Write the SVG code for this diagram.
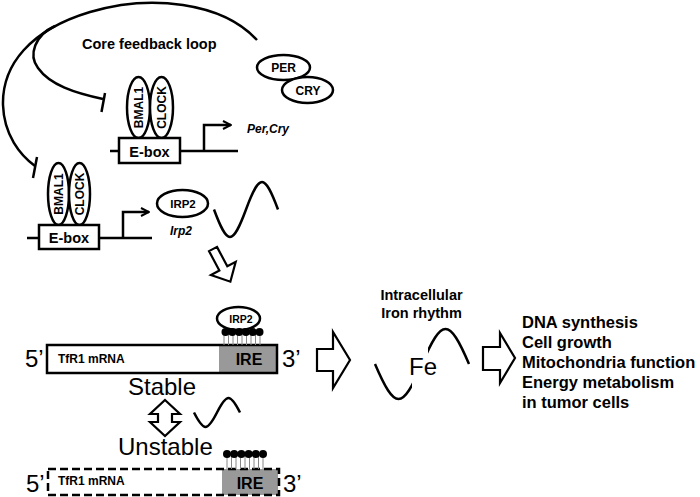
<svg xmlns="http://www.w3.org/2000/svg" width="700" height="497" viewBox="0 0 700 497">
<style>
text{font-family:"Liberation Sans",Arial,sans-serif;fill:#000}
.b{font-weight:bold}
.bi{font-weight:bold;font-style:italic;font-size:12px}
.ln{fill:none;stroke:#000;stroke-width:2.5}
.ov{fill:#fff;stroke:#000;stroke-width:2.5}
.rot{font-weight:bold;font-size:12px;text-anchor:middle}
.big{font-size:24px}
.stem{stroke:#888;stroke-width:1}
.hollow{fill:#fff;stroke:#000;stroke-width:2.2;stroke-linejoin:miter}
.lst{font-weight:bold;font-size:16.5px}
</style>
<defs>
<marker id="open" markerWidth="10" markerHeight="10" refX="9" refY="5" orient="auto" markerUnits="userSpaceOnUse">
<path d="M1,1 L9,5 L1,9" fill="none" stroke="#000" stroke-width="2"/>
</marker>
<clipPath id="feclip">
<rect x="0" y="0" width="412" height="497"/>
<rect x="428" y="0" width="272" height="497"/>
</clipPath>
</defs>

<g id="connectors">
<path class="ln" d="M257,40 C222,2 150,-6 90,12 C30,30 2,65 3,105 C4,135 20,155 35,166"/>
<path class="ln" d="M37,157 L33,178"/>
<path class="ln" d="M55,26 C35,35 28,55 38,68 C50,85 75,93 103,99"/>
<path class="ln" d="M105,93 L101.5,112"/>
<polygon class="hollow" transform="translate(213,249) rotate(62)" points="0,-4.5 22,-4.5 22,-14 37,0 22,14 22,4.5 0,4.5"/>
<polygon class="hollow" points="317,349 333,349 333,332 350,360 333,388 333,371 317,371"/>
<polygon class="hollow" points="483,347 500,347 500,333 515,358 500,383 500,370 483,370"/>
<polygon class="hollow" points="165,400 180,414 172,414 172,422 180,422 165,436 150,422 158,422 158,414 150,414"/>
</g>

<g id="core-label"><text class="b" x="82" y="49" font-size="14.5">Core feedback loop</text></g>

<g id="per-cry">
<ellipse class="ov" cx="283.5" cy="67.5" rx="26.5" ry="12.5"/>
<text class="b" x="283.5" y="72" font-size="12" text-anchor="middle">PER</text>
<ellipse class="ov" cx="307.5" cy="90" rx="25.5" ry="13"/>
<text class="b" x="308" y="95" font-size="12" text-anchor="middle">CRY</text>
</g>

<g id="upper-promoter">
<line class="ln" x1="110" y1="151" x2="238" y2="151"/>
<ellipse class="ov" cx="138.5" cy="107.5" rx="11.5" ry="30.5"/>
<text class="rot" transform="translate(138.5,107.5) rotate(-90)" y="4.3">BMAL1</text>
<ellipse class="ov" cx="161.5" cy="107.5" rx="11.5" ry="30.5"/>
<text class="rot" transform="translate(161.5,107.5) rotate(-90)" y="4.3">CLOCK</text>
<rect class="ov" x="119" y="138" width="61" height="25"/>
<text class="b" x="149.5" y="156.5" font-size="14.5" text-anchor="middle">E-box</text>
<path class="ln" d="M204,151 V125 H231" marker-end="url(#open)"/>
<text class="bi" x="247" y="133">Per,Cry</text>
</g>

<g id="lower-promoter">
<line class="ln" x1="27" y1="238" x2="152" y2="238"/>
<ellipse class="ov" cx="58.5" cy="194" rx="10.5" ry="31"/>
<text class="rot" transform="translate(58.5,194) rotate(-90)" y="4.3">BMAL1</text>
<ellipse class="ov" cx="79.5" cy="194" rx="10.5" ry="31"/>
<text class="rot" transform="translate(79.5,194) rotate(-90)" y="4.3">CLOCK</text>
<rect class="ov" x="39" y="225" width="60" height="24"/>
<text class="b" x="69" y="243" font-size="14.5" text-anchor="middle">E-box</text>
<path class="ln" d="M123,238 V212 H149" marker-end="url(#open)"/>
<text class="bi" x="170" y="235">Irp2</text>
</g>

<g id="irp2">
<ellipse class="ov" cx="182.5" cy="203.5" rx="25.5" ry="13.5"/>
<text class="b" x="183" y="207.5" font-size="11.5" text-anchor="middle">IRP2</text>
</g>

<g id="irp2-rhythm">
<path class="ln" d="M214,209.5 C227.6,246.2 232.4,246.2 246,209.5 C259.6,172.8 264.4,172.8 278,209.5"/>
</g>

<g id="stable-mrna">
<text class="big" x="25" y="367">5’</text>
<rect x="47" y="345" width="230" height="28" fill="#fff"/>
<rect x="219" y="345" width="58" height="28" fill="#999"/>
<rect x="47" y="345" width="230" height="28" fill="none" stroke="#000" stroke-width="2.5"/>
<text class="b" x="58" y="363" font-size="12">TfR1 mRNA</text>
<text class="b" x="249" y="365" font-size="16" text-anchor="middle">IRE</text>
<text class="big" x="282" y="367">3’</text>
<g class="stem">
<line x1="224" y1="334" x2="224" y2="345"/><line x1="228.5" y1="334" x2="228.5" y2="345"/><line x1="233" y1="334" x2="233" y2="345"/><line x1="237.5" y1="334" x2="237.5" y2="345"/><line x1="242" y1="334" x2="242" y2="345"/><line x1="246.5" y1="334" x2="246.5" y2="345"/><line x1="251" y1="334" x2="251" y2="345"/><line x1="255.5" y1="334" x2="255.5" y2="345"/><line x1="260" y1="334" x2="260" y2="345"/>
</g>
</g>

<g id="irp2-bound">
<ellipse class="ov" cx="238.5" cy="318.5" rx="21.5" ry="11.5"/>
<text class="b" x="241" y="322.5" font-size="10.5" text-anchor="middle">IRP2</text>
<g fill="#000">
<circle cx="225.5" cy="332" r="4"/><circle cx="232.3" cy="332" r="4"/><circle cx="239.1" cy="332" r="4"/><circle cx="245.9" cy="332" r="4"/><circle cx="252.7" cy="332" r="4"/><circle cx="259.5" cy="332" r="4"/>
</g>
</g>

<g id="stable-label"><text class="big" x="128" y="395">Stable</text></g>

<g id="small-rhythm">
<path class="ln" d="M194,412.5 C203.8,431.8 207.2,431.8 217,412.5 C226.8,393.2 230.2,393.2 240,412.5"/>
</g>

<g id="unstable-label"><text class="big" x="118" y="455">Unstable</text></g>

<g id="unstable-mrna">
<text class="big" x="26" y="492">5’</text>
<rect x="222" y="469" width="56" height="26" fill="#999"/>
<rect x="48" y="469" width="231" height="26" fill="none" stroke="#000" stroke-width="2.5" stroke-dasharray="8,4"/>
<text class="b" x="58" y="485" font-size="12">TfR1 mRNA</text>
<text class="b" x="250" y="489" font-size="16" text-anchor="middle">IRE</text>
<text class="big" x="283" y="492">3’</text>
<g class="stem">
<line x1="227" y1="456" x2="227" y2="469"/><line x1="231.5" y1="456" x2="231.5" y2="469"/><line x1="236" y1="456" x2="236" y2="469"/><line x1="240.5" y1="456" x2="240.5" y2="469"/><line x1="245" y1="456" x2="245" y2="469"/><line x1="249.5" y1="456" x2="249.5" y2="469"/><line x1="254" y1="456" x2="254" y2="469"/><line x1="258.5" y1="456" x2="258.5" y2="469"/><line x1="263" y1="456" x2="263" y2="469"/>
</g>
<g fill="#000">
<circle cx="227" cy="454" r="4"/><circle cx="234.2" cy="454" r="4"/><circle cx="241.4" cy="454" r="4"/><circle cx="248.6" cy="454" r="4"/><circle cx="255.8" cy="454" r="4"/><circle cx="263" cy="454" r="4"/>
</g>
</g>

<g id="iron-rhythm">
<text class="b" x="421.5" y="300" font-size="14.5" text-anchor="middle">Intracellular</text>
<text class="b" x="421.5" y="318" font-size="14.5" text-anchor="middle">Iron rhythm</text>
<path class="ln" clip-path="url(#feclip)" d="M375,364 C395,410.7 402,410.7 422,364 C442,317.3 449,317.3 469,364"/>
<text x="409" y="375" font-size="24">Fe</text>
</g>

<g id="outcomes">
<text class="lst" x="522" y="328">DNA synthesis</text>
<text class="lst" x="522" y="348">Cell growth</text>
<text class="lst" x="522" y="368">Mitochondria function</text>
<text class="lst" x="522" y="388">Energy metabolism</text>
<text class="lst" x="522" y="408">in tumor cells</text>
</g>
</svg>
